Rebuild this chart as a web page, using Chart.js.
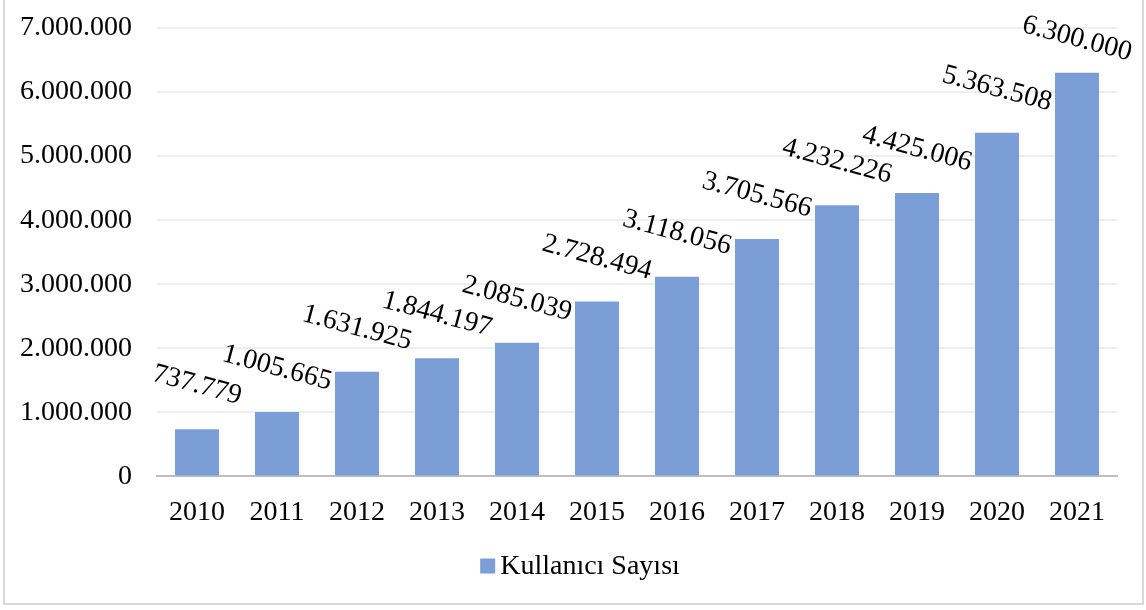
<!DOCTYPE html>
<html>
<head>
<meta charset="utf-8">
<script src="https://cdn.jsdelivr.net/npm/chart.js@4.4.1/dist/chart.umd.min.js"></script>
<style>
  html, body { margin: 0; padding: 0; background: #fff; }
  #wrap { position: relative; width: 1146px; height: 610px; }
</style>
</head>
<body>
<div id="wrap"><canvas id="c" width="1146" height="610"></canvas></div>
<script>
// Yearly user counts
const years = ['2010', '2011', '2012', '2013', '2014', '2015', '2016', '2017', '2018', '2019', '2020', '2021'];
const userCounts = [737779, 1005665, 1631925, 1844197, 2085039, 2728494, 3118056, 3705566, 4232226, 4425006, 5363508, 6300000];
const seriesName = 'Kullanıcı Sayısı';
const yTicks = [0, 1000000, 2000000, 3000000, 4000000, 5000000, 6000000, 7000000];

const FONT = '"Liberation Serif", "Times New Roman", serif';
const FONT_SIZE = 28;
const BAR = '#7b9ed7';

// Thousands separated by dots: 6300000 -> 6.300.000
function fmt(v) {
  return String(Math.round(v)).replace(/\B(?=(\d{3})+(?!\d))/g, '.');
}

// Frame around the whole figure
const framePlugin = {
  id: 'frame',
  beforeDraw(chart) {
    const ctx = chart.ctx;
    ctx.save();
    ctx.fillStyle = '#ffffff';
    ctx.fillRect(0, 0, chart.width, chart.height);
    ctx.strokeStyle = '#d9d9d9';
    ctx.lineWidth = 2;
    ctx.strokeRect(4, -5, chart.width - 7, chart.height - 1);
    ctx.restore();
  }
};

// Tilted value labels above each bar
const valueLabels = {
  id: 'valueLabels',
  afterDatasetsDraw(chart) {
    const ctx = chart.ctx;
    const meta = chart.getDatasetMeta(0);
    const data = chart.data.datasets[0].data;
    ctx.save();
    ctx.font = FONT_SIZE + 'px ' + FONT;
    ctx.fillStyle = '#000';
    ctx.textAlign = 'center';
    ctx.textBaseline = 'middle';
    meta.data.forEach((bar, i) => {
      const cy = Math.max(bar.y - 44, 39);
      ctx.save();
      ctx.translate(bar.x, cy);
      ctx.rotate(15 * Math.PI / 180);
      ctx.fillText(fmt(data[i]), 0, 0);
      ctx.restore();
    });
    ctx.restore();
  }
};

// Series key under the axis: small square followed by the series name
const seriesKey = {
  id: 'seriesKey',
  afterDraw(chart) {
    const ctx = chart.ctx;
    const ds = chart.data.datasets[0];
    ctx.save();
    ctx.font = FONT_SIZE + 'px ' + FONT;
    const tw = ctx.measureText(ds.label).width;
    const box = 15, gap = 5;
    const total = box + gap + tw;
    const x0 = 580 - total / 2;
    const cy = 566;
    ctx.fillStyle = ds.backgroundColor;
    ctx.fillRect(x0, cy - box / 2, box, box);
    ctx.fillStyle = '#000';
    ctx.textAlign = 'left';
    ctx.textBaseline = 'middle';
    ctx.fillText(ds.label, x0 + box + gap, cy + 1);
    ctx.restore();
  }
};

new Chart(document.getElementById('c'), {
  type: 'bar',
  data: {
    labels: years,
    datasets: [{
      label: seriesName,
      data: userCounts,
      backgroundColor: BAR,
      borderWidth: 0,
      barPercentage: 0.55,
      categoryPercentage: 1.0
    }]
  },
  options: {
    responsive: false,
    animation: false,
    devicePixelRatio: 1,
    layout: { padding: { left: 0, right: 29, top: 28, bottom: 62 } },
    plugins: {
      legend: { display: false },
      tooltip: { enabled: false }
    },
    scales: {
      x: {
        grid: { display: false, drawTicks: false },
        border: { display: true, color: '#bfbfbf', width: 2 },
        ticks: {
          font: { family: FONT, size: FONT_SIZE },
          color: '#000',
          padding: 19,
          maxRotation: 0
        }
      },
      y: {
        min: 0,
        max: 7000000,
        afterBuildTicks(scale) {
          scale.ticks = yTicks.map(v => ({ value: v }));
        },
        afterFit(scale) {
          scale.width = 157;
          scale.paddingTop = 0;
          scale.paddingBottom = 0;
        },
        grid: { color: '#eeeeee', lineWidth: 2, drawTicks: false },
        border: { display: false },
        ticks: {
          font: { family: FONT, size: FONT_SIZE },
          color: '#000',
          padding: 25,
          callback: v => fmt(v)
        }
      }
    }
  },
  plugins: [framePlugin, valueLabels, seriesKey]
});
</script>
</body>
</html>
